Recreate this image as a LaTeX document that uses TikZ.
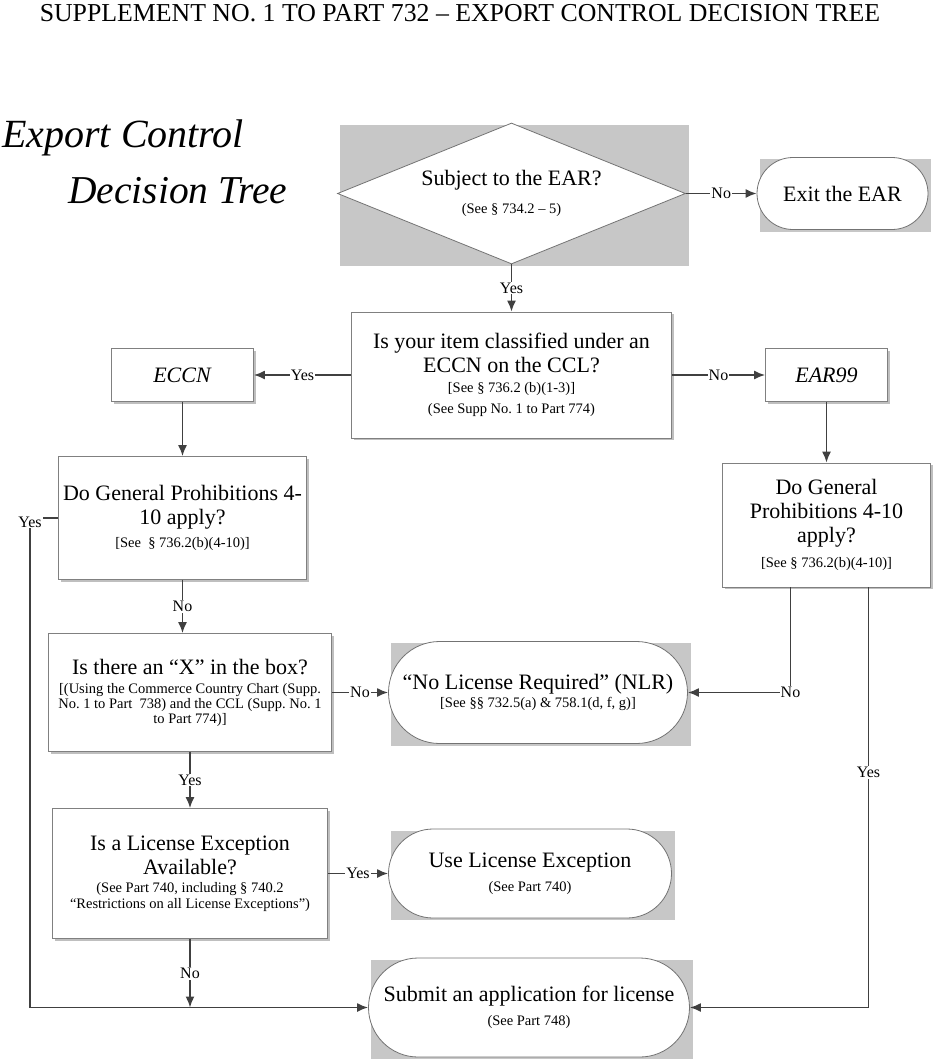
\documentclass[tikz,border=0pt]{standalone}
\usepackage{fontspec}
\setmainfont{Liberation Serif}
\usetikzlibrary{arrows.meta,positioning,shapes.geometric,shadows,backgrounds,calc}

\newcommand{\qfont}{\fontsize{22}{24}\selectfont}
\newcommand{\reffont}{\fontsize{14.5}{15.5}\selectfont}
\newcommand{\lblfont}{\fontsize{16}{17}\selectfont}

\begin{document}
\begin{tikzpicture}[
		x=1pt, y=-1pt,
		>={Latex[length=11pt,width=9pt]},
		font=\qfont,
		process/.style={
			rectangle,
			draw=black!50,
			line width=0.8pt,
			fill=white,
			align=flush center,
			inner xsep=2pt,
			drop shadow={shadow xshift=2pt, shadow yshift=-2pt, fill=black!25, opacity=1}
		},
		term/.style={
			rectangle,
			draw=black!55,
			line width=0.8pt,
			fill=white,
			align=flush center
		},
		decision/.style={
			diamond,
			aspect=2.47,
			draw=black!55,
			line width=0.8pt,
			fill=white,
			align=flush center,
			inner sep=2pt
		},
		flow/.style={draw=black!75, line width=1.6pt},
		lbl/.style={fill=white, inner sep=1pt, font=\lblfont},
		bgbox/.style={fill=black!22}
		]
		\useasboundingbox (0,0) rectangle (933,1060);
		
		% headings
		\node[font=\fontsize{25.8}{27}\selectfont] (title) at (460,13)
		{SUPPLEMENT NO.\ 1 TO PART 732 – EXPORT CONTROL DECISION TREE};
		\node[anchor=base west, inner sep=0pt, font=\fontsize{40}{42}\selectfont\itshape] (head1) at (2,147) {Export Control};
		\node[anchor=base west, inner sep=0pt, font=\fontsize{39.5}{42}\selectfont\itshape] (head2) at (68,203) {Decision Tree};
		
		% We start by placing the blocks
		\node[decision, minimum width=348pt, minimum height=141pt, text width=200pt] (ear) at (511.5,193.5)
		{Subject to the EAR?\par\vspace{12pt}{\reffont (See § 734.2 – 5)\par}};
		
		\node[term, right of=ear, node distance=331pt, minimum width=171pt, minimum height=72pt, rounded corners=36pt] (exit)
		{Exit the EAR};
		
		\node[process, below of=ear, node distance=181.5pt, minimum width=320pt, minimum height=126pt, text width=314pt] (ccl)
		{Is your item classified under an\\ ECCN on the CCL?\par\vspace{4pt}%
			{\reffont [See § 736.2 (b)(1-3)]\\[5.5pt] (See Supp No.\ 1 to Part 774)\par}};
		
		\node[process, left of=ccl, node distance=329pt, minimum width=142pt, minimum height=53pt] (eccn) {\textit{ECCN}};
		\node[process, right of=ccl, node distance=315pt, minimum width=122pt, minimum height=53pt] (ear99) {\textit{EAR99}};
		
		\node[process, below of=eccn, node distance=143pt, minimum width=248pt, minimum height=123pt, text width=244pt] (gpl)
		{Do General Prohibitions 4-\\10 apply?\par\vspace{8pt}{\reffont [See\ \ § 736.2(b)(4-10)]\par}};
		
		\node[process, below of=ear99, node distance=150pt, minimum width=208pt, minimum height=124pt, text width=204pt] (gpr)
		{Do General\\ Prohibitions 4-10\\ apply?\par\vspace{9pt}{\reffont [See § 736.2(b)(4-10)]\par}};
		
		\node[process, below of=gpl, node distance=174.5pt, xshift=7.5pt, minimum width=283pt, minimum height=118pt, text width=279pt] (isx)
		{Is there an “X” in the box?\par\vspace{4pt}%
			{\reffont\baselineskip=15pt [(Using the Commerce Country Chart (Supp.\\ No.\ 1 to Part\ \ 738) and the CCL (Supp.\ No.\ 1\\ to Part 774)]\par}};
		
		\node[term, right of=isx, node distance=348pt, minimum width=299pt, minimum height=102pt, rounded corners=51pt, text width=280pt] (nlr)
		{“No License Required” (NLR)\par\vspace{2pt}{\reffont [See §§ 732.5(a) \& 758.1(d, f, g)]\par}};
		
		\node[process, below of=isx, node distance=181pt, minimum width=275pt, minimum height=130pt, text width=271pt] (lic)
		{Is a License Exception\\ Available?\par\vspace{3pt}%
			{\reffont (See Part 740, including § 740.2\\ “Restrictions on all License Exceptions”)\par}};
		
		\node[term, right of=lic, node distance=340pt, minimum width=283pt, minimum height=89pt, rounded corners=44.5pt, text width=260pt] (uselic)
		{Use License Exception\par\vspace{9pt}{\reffont (See Part 740)\par}};
		
		\node[term, below of=uselic, node distance=134pt, xshift=-1pt, minimum width=321pt, minimum height=99pt, rounded corners=49.5pt, text width=300pt] (submit)
		{Submit an application for license\par\vspace{9pt}{\reffont (See Part 748)\par}};
		
		\coordinate (leftbus) at (30,0);
		
		% grey panels behind the end points
		\begin{scope}[on background layer]
			\foreach \n in {ear,exit,nlr,uselic,submit}
			\fill[bgbox] ($(\n.west |- \n.south)+(3,2)$) rectangle ($(\n.east |- \n.north)+(3,2)$);
		\end{scope}
		
		% connectors
		\draw[flow,->] (ear.east) -- node[lbl] {No} (exit.west);
		\draw[flow,->] (ear.south) -- node[lbl] {Yes} (ccl.north);
		\draw[flow,->] (ccl.west) -- node[lbl] {Yes} (eccn.east);
		\draw[flow,->] (ccl.east) -- node[lbl] {No} (ear99.west);
		\draw[flow,->] (eccn.south) -- (gpl.north);
		\draw[flow,->] (ear99.south) -- (gpr.north);
		\draw[flow,->] (gpl.south) -- node[lbl] {No} (gpl.south |- isx.north);
		\draw[flow,->] (isx.east) -- node[lbl] {No} (nlr.west);
		\draw[flow,->] (isx.south) -- node[lbl] {Yes} (lic.north);
		\draw[flow,->] (lic.east) -- node[lbl] {Yes} (uselic.west);
		\draw[flow,->] (lic.south) -- node[lbl] {No} (lic.south |- submit.west);
		\draw[flow,->] (gpl.west) -| node[lbl, yshift=-4pt] {Yes} (leftbus |- submit.west) -- (submit.west);
		\draw[flow,->] ([xshift=-36pt]gpr.south) |- node[lbl] {No} (nlr.east);
		\draw[flow,->] ([xshift=42pt]gpr.south) |- node[lbl, pos=0.22] {Yes} (submit.east);
		
\end{tikzpicture}
\end{document}
